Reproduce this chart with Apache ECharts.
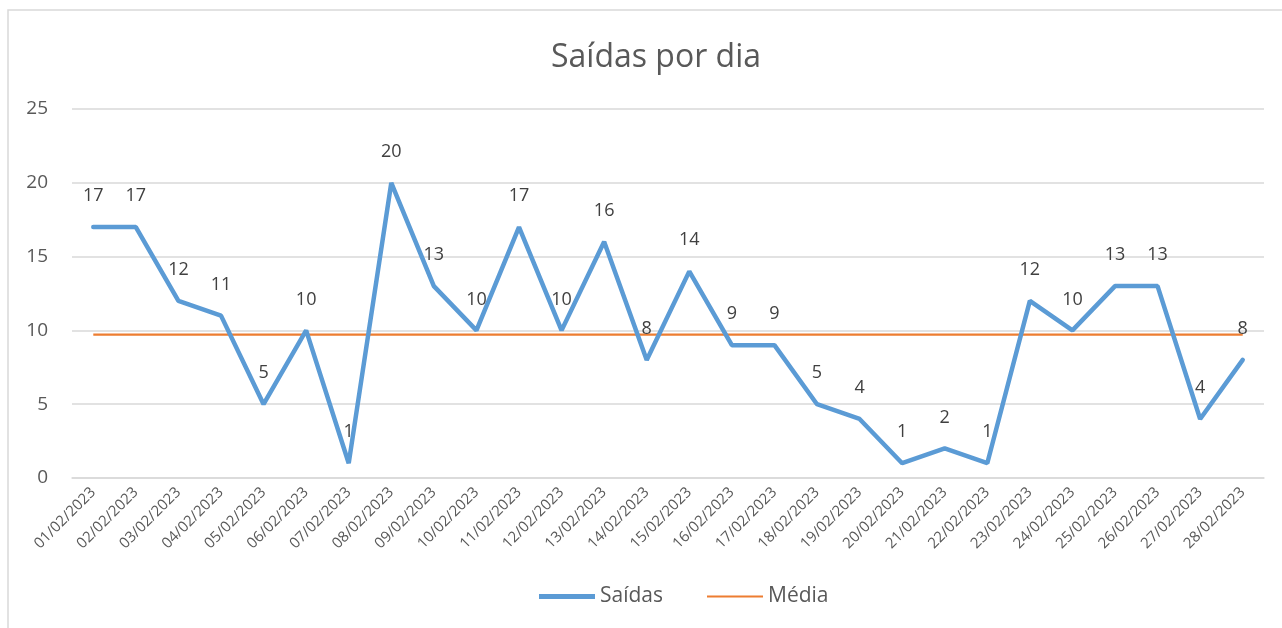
<!DOCTYPE html>
<html>
<head>
<meta charset="utf-8">
<script src="https://cdn.jsdelivr.net/npm/echarts@6/dist/echarts.min.js"></script>
<style>
  html, body { margin: 0; padding: 0; background: #fff; }
  #chart { width: 1282px; height: 628px; }
</style>
</head>
<body>
<div id="chart"></div>
<script>
// dias do mês
const dias = ['01/02/2023', '02/02/2023', '03/02/2023', '04/02/2023', '05/02/2023', '06/02/2023', '07/02/2023',
    '08/02/2023', '09/02/2023', '10/02/2023', '11/02/2023', '12/02/2023', '13/02/2023', '14/02/2023',
    '15/02/2023', '16/02/2023', '17/02/2023', '18/02/2023', '19/02/2023', '20/02/2023', '21/02/2023',
    '22/02/2023', '23/02/2023', '24/02/2023', '25/02/2023', '26/02/2023', '27/02/2023', '28/02/2023'];

const saidas = [17, 17, 12, 11, 5, 10, 1, 20, 13, 10, 17, 10, 16, 8,
    14, 9, 9, 5, 4, 1, 2, 1, 12, 10, 13, 13, 4, 8];

const yTicks = [0, 5, 10, 15, 20, 25];

// média das saídas (mesma para todos os dias)
function getmedia(d) {
    let soma = 0;
    for (let i = 0; i < d.length; ++i) soma += d[i];
    let m = soma / d.length;
    return d.map(() => m);
}

const font = '"Open Sans", "Noto Sans", sans-serif';

echarts.init(document.getElementById('chart')).setOption({
    backgroundColor: '#fff',
    textStyle: { fontFamily: font },
    graphic: [{
        type: 'rect',
        shape: { x: 8, y: 10, width: 1320, height: 700 },
        style: { fill: 'none', stroke: '#d9d9d9', lineWidth: 1.5 },
        silent: true
    }],
    title: {
        text: 'Saídas por dia',
        left: 546,
        top: 37,
        textStyle: { fontFamily: font, fontSize: 32, fontWeight: 'normal', color: '#595959' }
    },
    legend: {
        bottom: 16,
        left: 534,
        itemWidth: 56,
        itemHeight: 14,
        itemGap: 44,
        textStyle: { fontFamily: font, fontSize: 21, color: '#595959' },
        data: [
            { name: 'Saídas', icon: 'path://M0,0 L56,0 L56,5 L0,5 Z' },
            { name: 'Média', icon: 'path://M0,0 L56,0 L56,2 L0,2 Z' }
        ]
    },
    grid: {
        left: 72,
        right: 18,
        top: 109,
        bottom: 150
    },
    xAxis: {
        type: 'category',
        data: dias,
        boundaryGap: true,
        axisTick: { show: false },
        axisLine: { lineStyle: { color: '#d9d9d9', width: 1.5 } },
        axisLabel: {
            rotate: 45,
            interval: 0,
            margin: 12,
            fontSize: 15,
            color: '#595959',
            fontFamily: font
        }
    },
    yAxis: {
        type: 'value',
        min: yTicks[0],
        max: yTicks[yTicks.length - 1],
        interval: 5,
        axisLine: { show: false },
        axisTick: { show: false },
        splitLine: { lineStyle: { color: '#d9d9d9', width: 1.5 } },
        axisLabel: { fontSize: 19, color: '#595959', margin: 24, fontFamily: font }
    },
    series: [{
        name: 'Saídas',
        type: 'line',
        data: saidas,
        symbol: 'circle',
        symbolSize: 0,
        showSymbol: true,
        color: '#5b9bd5',
        lineStyle: { width: 4.5, color: '#5b9bd5', cap: 'round' },
        label: {
            show: true,
            position: 'top',
            distance: 22,
            fontSize: 18,
            color: '#404040',
            fontFamily: font
        },
        z: 3
    }, {
        name: 'Média',
        type: 'line',
        data: getmedia(saidas),
        symbol: 'none',
        color: '#ed7d31',
        lineStyle: { width: 2.2, color: '#ed7d31' },
        z: 2
    }]
});
</script>
</body>
</html>
